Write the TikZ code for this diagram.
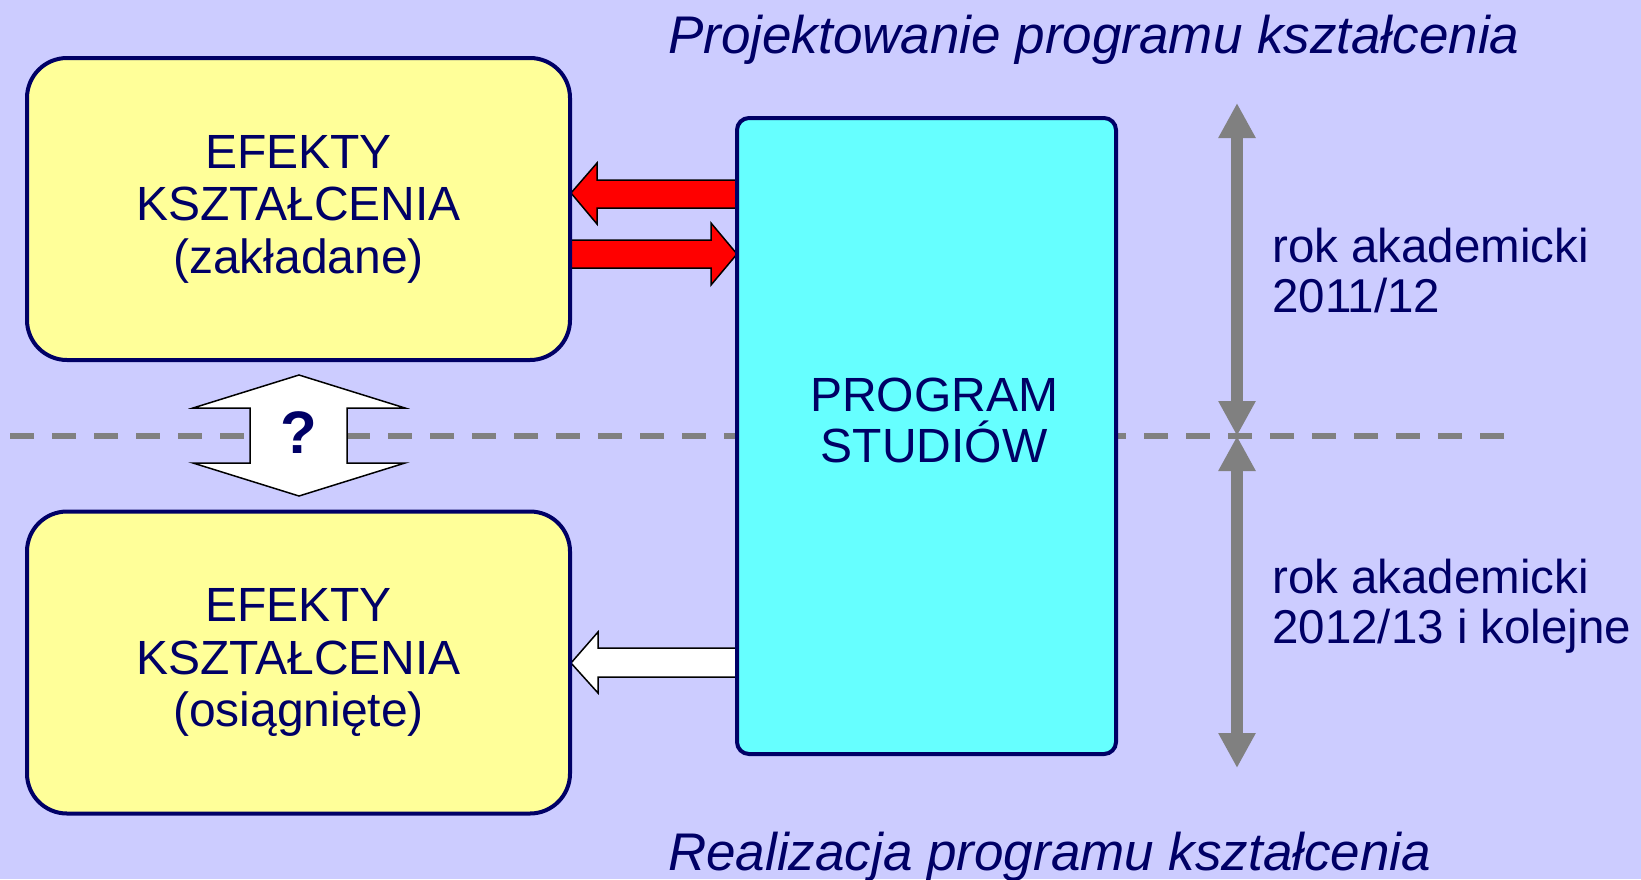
\documentclass[tikz,border=0pt]{standalone}
\usepackage{fontspec}
\setmainfont{Liberation Sans}
\usetikzlibrary{arrows.meta}
\definecolor{bg}{RGB}{204,204,255}
\definecolor{ybox}{RGB}{255,255,153}
\definecolor{cbox}{RGB}{102,255,255}
\definecolor{navy}{RGB}{0,0,102}
\definecolor{gr}{RGB}{128,128,128}
\begin{document}
\begin{tikzpicture}[x=1pt,y=-1pt,
  effbox/.style={draw=navy, line width=4pt, fill=ybox, rounded corners=40pt,
    minimum width=543pt, minimum height=302pt, inner sep=0pt, text=navy,
    align=center, font=\fontsize{48}{52.5}\selectfont},
  progbox/.style={draw=navy, line width=4pt, fill=cbox, rounded corners=12pt,
    minimum width=379pt, minimum height=636pt, inner sep=0pt},
  boxtext/.style={text=navy, align=center, inner sep=0pt, font=\fontsize{48}{51}\selectfont},
  blockarrow/.style={draw=black, line width=1.5pt, line join=miter},
  span/.style={draw=gr, line width=12pt,
    {Triangle[width=35pt,length=35pt]}-{Triangle[width=35pt,length=35pt]}},
  divider/.style={draw=gr, line width=6pt, dash pattern=on 24pt off 18pt},
  titletext/.style={text=navy, inner sep=0pt, font=\fontsize{53}{60}\selectfont\itshape},
  yeartext/.style={text=navy, inner sep=0pt, align=left, font=\fontsize{47.5}{50}\selectfont}
]
\useasboundingbox[fill=bg] (0,0) rectangle (1641,879);

% divider line
\coordinate (dl) at (10,436);
\coordinate (dr) at (1507,436);
\draw[divider] (dl) -- (dr);

% block arrows
\draw[blockarrow, fill=red] (737,180) -- (597,180) -- (597,163) -- (571,193) -- (597,224) -- (597,208) -- (737,208) -- cycle;
\draw[blockarrow, fill=red] (571,240) -- (711,240) -- (711,223) -- (737,254) -- (711,285) -- (711,268) -- (571,268) -- cycle;
\draw[blockarrow, fill=white] (737,648) -- (598,648) -- (598,632) -- (571,663) -- (598,693) -- (598,677) -- (737,677) -- cycle;

% boxes
\node[effbox] (eff1) at (298.5,209) {EFEKTY\\KSZTAŁCENIA\\(zakładane)};
\node[effbox] (eff2) at (298.5,662.5) {EFEKTY\\KSZTAŁCENIA\\(osiągnięte)};
\node[progbox] (prog) at (926.5,436) {};
\node[boxtext] (progt) at (934,420.5) {PROGRAM\\STUDIÓW};

% question double arrow
\draw[blockarrow, fill=white] (299,375) -- (405,408) -- (347,408) -- (347,463) -- (405,463) -- (299,496) -- (193,463) -- (250,463) -- (250,408) -- (193,408) -- cycle;
\node[text=navy, inner sep=0pt, font=\fontsize{60}{60}\selectfont\bfseries] (q) at (298.5,432.5) {?};

% gray span arrows
\coordinate (ytop) at (1237,103);
\coordinate (ymid) at (1237,436);
\coordinate (ybot) at (1237,768);
\draw[span] (ytop) -- (ymid);
\draw[span] (ymid) -- (ybot);

% titles
\node[titletext, anchor=base west] (t1) at (668,53) {Projektowanie programu kształcenia};
\node[titletext, anchor=base west] (t2) at (668,870) {Realizacja programu kształcenia};

% year labels
\node[yeartext, anchor=base west] (y1) at (1272,312) {rok akademicki\\2011/12};
\node[yeartext, anchor=base west] (y2) at (1272,643) {rok akademicki\\2012/13 i kolejne};
\end{tikzpicture}
\end{document}
